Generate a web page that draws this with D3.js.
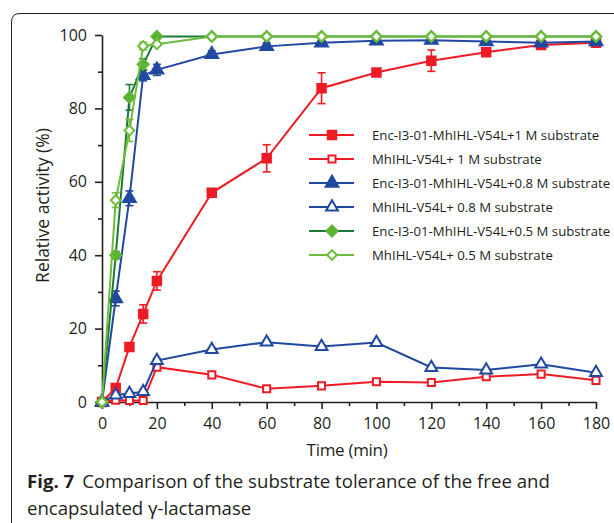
<!DOCTYPE html>
<html>
<head>
<meta charset="utf-8">
<script src="https://cdn.jsdelivr.net/npm/d3@7"></script>
<style>
  body { margin: 0; background: #fff; }
  svg text { font-family: "Open Sans", "Noto Sans", sans-serif; }
</style>
</head>
<body>
<script>
// Time points (min)
const times = [0, 5, 10, 15, 20, 40, 60, 80, 100, 120, 140, 160, 180];

// Relative activity (%) per series
const enc1M   = [0, 3.8, 15, 24, 33, 57, 66.4, 85.5, 89.8, 93, 95.3, 97.3, 97.9];
const enc1MErr = [0, 1, 0.8, 2.5, 2.5, 0.6, 3.7, 4.2, 0.6, 2.9, 0.6, 0.6, 1];
const free1M  = [0, 0.5, 0.4, 0.4, 9.5, 7.4, 3.6, 4.4, 5.5, 5.3, 6.9, 7.6, 5.9];
const free1MErr = [0, 0.3, 0.3, 0.3, 0.5, 0.4, 0.6, 0.4, 0.4, 0.5, 0.5, 0.5, 0.6];
const enc08M  = [0, 28.2, 55.5, 89, 90.5, 94.7, 96.9, 97.9, 98.4, 98.6, 98.2, 97.9, 98.2];
const enc08MErr = [0, 2, 2, 1.5, 1.5, 1, 1, 0.5, 0.5, 0.5, 0.5, 0.5, 0.5];
const free08M = [0, 1.9, 2.3, 2.8, 11.3, 14.3, 16.3, 15.1, 16.2, 9.4, 8.7, 10.3, 8];
const free08MErr = [0, 0.4, 0.4, 0.4, 0.6, 0.5, 0.6, 0.5, 0.5, 0.5, 0.4, 0.5, 0.4];
const enc05M  = [0, 40, 83, 92, 99.6, 99.6, 99.6, 99.6, 99.6, 99.6, 99.6, 99.6, 99.6];
const enc05MErr = [0, 1, 3.5, 1.5, 0.3, 0.3, 0.3, 0.3, 0.3, 0.3, 0.3, 0.3, 0.3];
const free05M = [0, 55, 74, 97, 97.5, 99.6, 99.6, 99.6, 99.6, 99.6, 99.6, 99.6, 99.6];
const free05MErr = [0, 2, 3, 1, 0.5, 0.3, 0.3, 0.3, 0.3, 0.3, 0.3, 0.3, 0.3];

const seriesNames = [
  "Enc-I3-01-MhIHL-V54L+1 M substrate",
  "MhIHL-V54L+ 1 M substrate",
  "Enc-I3-01-MhIHL-V54L+0.8 M substrate",
  "MhIHL-V54L+ 0.8 M substrate",
  "Enc-I3-01-MhIHL-V54L+0.5 M substrate",
  "MhIHL-V54L+ 0.5 M substrate"
];

const xTicks = [0, 20, 40, 60, 80, 100, 120, 140, 160, 180];
const yTicks = [0, 20, 40, 60, 80, 100];

// Styling per series (diamonds = squares turned 45deg)
const series = [
  { name: seriesNames[0], values: enc1M, err: enc1MErr, line: "#ed1c24", stroke: "#ed1c24", fill: "#ed1c24", shape: d3.symbolSquare, size: 72, rot: 0 },
  { name: seriesNames[1], values: free1M, err: free1MErr, line: "#ed1c24", stroke: "#ed1c24", fill: "#fff", shape: d3.symbolSquare, size: 50, rot: 0 },
  { name: seriesNames[2], values: enc08M, err: enc08MErr, line: "#2149a0", stroke: "#2149a0", fill: "#2149a0", shape: d3.symbolTriangle, size: 70, rot: 0 },
  { name: seriesNames[3], values: free08M, err: free08MErr, line: "#2149a0", stroke: "#2149a0", fill: "#fff", shape: d3.symbolTriangle, size: 60, rot: 0 },
  { name: seriesNames[4], values: enc05M, err: enc05MErr, line: "#1b7a36", stroke: "#5db332", fill: "#5db332", shape: d3.symbolSquare, size: 60, rot: 45 },
  { name: seriesNames[5], values: free05M, err: free05MErr, line: "#6dbd3d", stroke: "#6dbd3d", fill: "#fff", shape: d3.symbolSquare, size: 48, rot: 45 }
];

const W = 614, H = 523;
const margin = { top: 35, right: 18, bottom: 121, left: 102 },
      width = W - margin.left - margin.right,
      height = H - margin.top - margin.bottom;

const svg = d3.select("body").append("svg")
    .attr("width", W)
    .attr("height", H)
    .attr("viewBox", [0, 0, W, H]);

// figure frame (rounded top-left corner)
svg.append("path")
    .attr("d", "M11.5,523 L11.5,22 Q11.5,13.5 20,13.5 L614,13.5")
    .attr("fill", "none")
    .attr("stroke", "#231f20")
    .attr("stroke-width", 1);

const g = svg.append("g")
    .attr("transform", "translate(" + margin.left + "," + margin.top + ")");

const x = d3.scaleLinear().domain([0, 180]).range([0, width]);
const y = d3.scaleLinear().domain([0, 100]).range([height, 0]);

// Axes
const xAxis = g.append("g")
    .attr("transform", "translate(0," + height + ")")
    .call(d3.axisBottom(x).tickValues(xTicks).tickSize(7).tickSizeOuter(0).tickPadding(9));
xAxis.append("g")
    .call(d3.axisBottom(x).tickValues(d3.range(10, 180, 20)).tickSize(4).tickFormat(""))
    .select(".domain").remove();

const yAxis = g.append("g")
    .call(d3.axisLeft(y).tickValues(yTicks).tickSize(7).tickSizeOuter(0).tickPadding(8));
yAxis.append("g")
    .call(d3.axisLeft(y).tickValues(d3.range(10, 100, 20)).tickSize(4).tickFormat(""))
    .select(".domain").remove();

[xAxis, yAxis].forEach(a => {
  a.selectAll(".domain, line").attr("stroke", "#231f20").attr("stroke-width", 1.6);
  a.selectAll("text").attr("fill", "#231f20").style("font-size", "16px");
});

// Axis titles
g.append("text")
    .attr("x", width / 2 - 2)
    .attr("y", height + 54)
    .attr("text-anchor", "middle")
    .attr("fill", "#231f20")
    .style("font-size", "17px")
    .style("letter-spacing", "-0.3px")
    .text("Time (min)");

g.append("text")
    .attr("transform", "rotate(-90)")
    .attr("x", -(y(50) - 13))
    .attr("y", -53)
    .attr("text-anchor", "middle")
    .attr("fill", "#231f20")
    .style("font-size", "17.5px")
    .text("Relative activity (%)");

// Lines, error bars, markers
const line = d3.line()
    .x((d, i) => x(times[i]))
    .y(d => y(d));

series.forEach(s => {
  const sg = g.append("g");
  sg.append("path")
      .datum(s.values)
      .attr("d", line)
      .attr("fill", "none")
      .attr("stroke", s.line)
      .attr("stroke-width", 2);

  const eb = sg.selectAll(".eb")
      .data(s.values.map((v, i) => ({ t: times[i], v: v, e: s.err[i] })).filter(d => d.e > 0))
      .enter().append("g");
  eb.append("line")
      .attr("x1", d => x(d.t)).attr("x2", d => x(d.t))
      .attr("y1", d => y(d.v - d.e)).attr("y2", d => y(d.v + d.e))
      .attr("stroke", s.line).attr("stroke-width", 1.6);
  [-1, 1].forEach(sign => {
    eb.append("line")
        .attr("x1", d => x(d.t) - 4).attr("x2", d => x(d.t) + 4)
        .attr("y1", d => y(d.v + sign * d.e)).attr("y2", d => y(d.v + sign * d.e))
        .attr("stroke", s.line).attr("stroke-width", 1.6);
  });

  sg.selectAll(".pt")
      .data(s.values)
      .enter().append("path")
      .attr("transform", (d, i) => "translate(" + x(times[i]) + "," + y(d) + ") rotate(" + s.rot + ")")
      .attr("d", d3.symbol().type(s.shape).size(s.size))
      .attr("fill", s.fill)
      .attr("stroke", s.stroke)
      .attr("stroke-width", 2);
});

// Legend
const legendY = [135, 159, 183, 207, 231, 255];
const legend = svg.append("g");
series.forEach((s, i) => {
  const lg = legend.append("g").attr("transform", "translate(0," + legendY[i] + ")");
  lg.append("line")
      .attr("x1", 309).attr("x2", 354)
      .attr("stroke", s.line).attr("stroke-width", 2);
  lg.append("path")
      .attr("transform", "translate(332,0) rotate(" + s.rot + ")")
      .attr("d", d3.symbol().type(s.shape).size(s.size))
      .attr("fill", s.fill)
      .attr("stroke", s.stroke)
      .attr("stroke-width", 2);
  lg.append("text")
      .attr("x", 372)
      .attr("y", 0)
      .attr("dy", "0.35em")
      .attr("fill", "#231f20")
      .style("font-size", "13.2px")
      .text(s.name);
});

// Caption
const cap = svg.append("text")
    .attr("x", 27)
    .attr("y", 488)
    .attr("fill", "#231f20")
    .style("font-size", "18.6px");
cap.append("tspan").style("font-weight", "bold").text("Fig. 7");
cap.append("tspan").attr("dx", 8).text("Comparison of the substrate tolerance of the free and");
svg.append("text")
    .attr("x", 27)
    .attr("y", 515)
    .attr("fill", "#231f20")
    .style("font-size", "18.6px")
    .text("encapsulated γ-lactamase");
</script>
</body>
</html>
